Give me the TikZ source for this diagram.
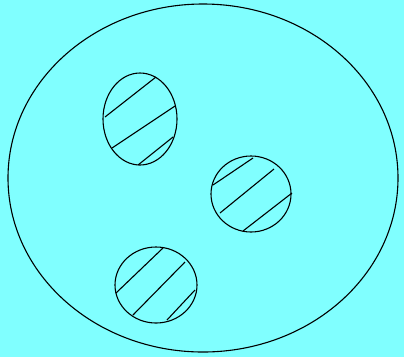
\documentclass[tikz,border=0pt]{standalone}
\definecolor{bgcyan}{RGB}{128,255,255}
\begin{document}
\begin{tikzpicture}[x=1pt,y=-1pt,line width=1.1pt,
  outline/.style={draw=black},
  hatch/.style={draw=black}]
\fill[bgcyan] (0,0) rectangle (404,357);
\useasboundingbox (0,0) rectangle (404,357);
% big ellipse
\draw[outline] (203,178) ellipse [x radius=195, y radius=174];
% small ellipse 1
\draw[outline] (140,119) ellipse [x radius=37, y radius=46];
\draw[hatch] (105,117) -- (156,77);
\draw[hatch] (112,148) -- (175,106);
\draw[hatch] (138,165) -- (173,137);
% small ellipse 2
\draw[outline] (251,194) ellipse [x radius=40, y radius=38];
\draw[hatch] (213,185) -- (253,158);
\draw[hatch] (220,213) -- (274,169);
\draw[hatch] (243,231) -- (292,193);
% small ellipse 3
\draw[outline] (156,285) ellipse [x radius=41, y radius=38];
\draw[hatch] (116,293) -- (163,248);
\draw[hatch] (133,315) -- (185,262);
\draw[hatch] (167,320) -- (195,290);
\end{tikzpicture}
\end{document}
